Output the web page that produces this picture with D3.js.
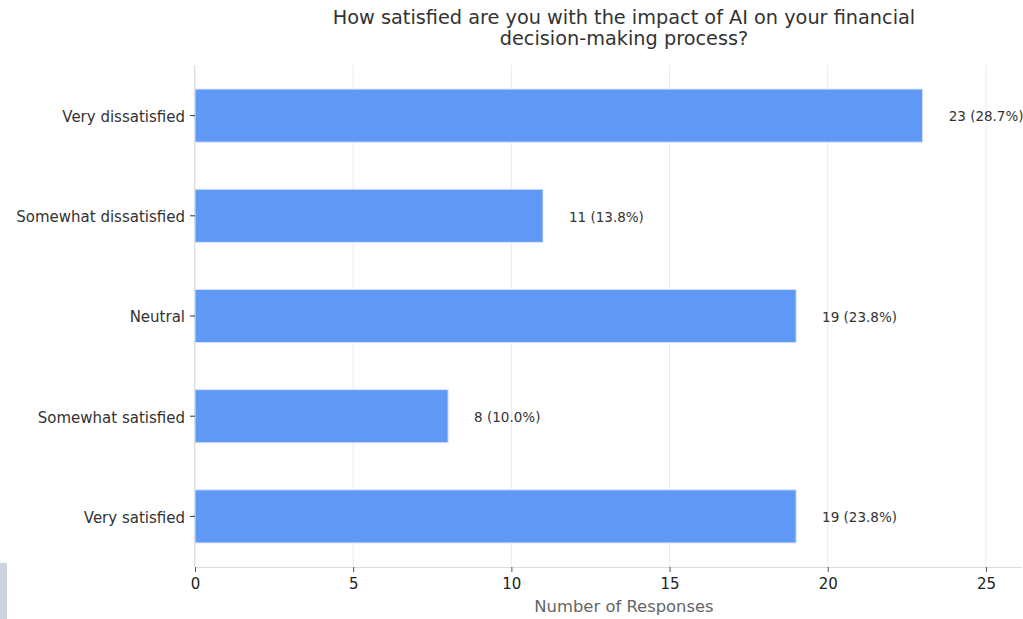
<!DOCTYPE html>
<html>
<head>
<meta charset="utf-8">
<script src="https://cdn.jsdelivr.net/npm/d3@7"></script>
<style>
  html, body { margin: 0; padding: 0; background: #fff; }
  svg { display: block; font-family: "DejaVu Sans", sans-serif; }
</style>
</head>
<body>
<svg id="chart" width="1023" height="619"></svg>
<script>
// Survey responses
const categories = ["Very dissatisfied", "Somewhat dissatisfied", "Neutral", "Somewhat satisfied", "Very satisfied"];
const counts = [23, 11, 19, 8, 19];
const percents = [28.7, 13.8, 23.8, 10.0, 23.8];
const xTicks = [0, 5, 10, 15, 20, 25];

const titleLines = ["How satisfied are you with the impact of AI on your financial", "decision-making process?"];

const width = 1023, height = 619;
const margin = { top: 65, right: 1, bottom: 52, left: 195 };

const svg = d3.select("#chart");

const x = d3.scaleLinear()
  .domain([0, 26.14])
  .range([margin.left, width - margin.right]);

const y = d3.scaleBand()
  .domain(categories)
  .range([margin.top, height - margin.bottom])
  .paddingInner(0.47)
  .paddingOuter(0.24);

// vertical grid lines
svg.append("g")
  .selectAll("line")
  .data(xTicks)
  .join("line")
  .attr("x1", d => x(d)).attr("x2", d => x(d))
  .attr("y1", margin.top).attr("y2", height - margin.bottom)
  .attr("stroke", "#ebebeb")
  .attr("stroke-width", 1);

// bars
const rows = categories.map((c, i) => ({ c, v: counts[i], p: percents[i] }));
svg.append("g")
  .selectAll("rect")
  .data(rows)
  .join("rect")
  .attr("x", x(0))
  .attr("y", d => y(d.c))
  .attr("width", d => x(d.v) - x(0))
  .attr("height", y.bandwidth())
  .attr("fill", "#6098f6")
  .attr("stroke", "#d6e4fb")
  .attr("stroke-width", 1);

// value labels
svg.append("g")
  .selectAll("text")
  .data(rows)
  .join("text")
  .attr("x", d => x(d.v) + 26)
  .attr("y", d => y(d.c) + y.bandwidth() / 2 + 1)
  .attr("dy", "0.35em")
  .attr("font-size", 13.5)
  .attr("fill", "#333")
  .text(d => `${d.v} (${d.p.toFixed(1)}%)`);

// x axis
const xAxis = svg.append("g")
  .attr("transform", `translate(0,${height - margin.bottom})`)
  .call(d3.axisBottom(x).tickValues(xTicks).tickSize(5).tickPadding(6).tickFormat(d3.format("d")));
xAxis.select(".domain").attr("stroke", "#dcdcdc").attr("stroke-width", 1.2).attr("d", `M${x(0)},0.5H${width - margin.right}`);
xAxis.selectAll(".tick line").attr("stroke", "#555");
xAxis.selectAll(".tick text").attr("font-size", 15).attr("fill", "#222").attr("font-family", "DejaVu Sans, sans-serif");

// y axis
const yAxis = svg.append("g")
  .attr("transform", `translate(${margin.left},0)`)
  .call(d3.axisLeft(y).tickSize(5).tickPadding(5));
yAxis.select(".domain").attr("stroke", "#dcdcdc").attr("stroke-width", 1.2).attr("d", `M-0.5,${margin.top}V${height - margin.bottom}`);
yAxis.selectAll(".tick line").attr("stroke", "#333");
yAxis.selectAll(".tick text").attr("font-size", 15).attr("fill", "#333").attr("dy", "0.42em").attr("font-family", "DejaVu Sans, sans-serif");

// axis title
svg.append("text")
  .attr("x", 624)
  .attr("y", 612)
  .attr("text-anchor", "middle")
  .attr("font-size", 16.4)
  .attr("fill", "#666")
  .text("Number of Responses");

// chart title
svg.append("g")
  .selectAll("text")
  .data(titleLines)
  .join("text")
  .attr("x", 624)
  .attr("y", (d, i) => 24 + i * 21)
  .attr("text-anchor", "middle")
  .attr("font-size", 19.3)
  .attr("fill", "#333")
  .text(d => d);

// small side tab at the lower left
svg.append("rect")
  .attr("x", 0).attr("y", 563)
  .attr("width", 7).attr("height", 56)
  .attr("fill", "#cdd3de");
</script>
</body>
</html>
